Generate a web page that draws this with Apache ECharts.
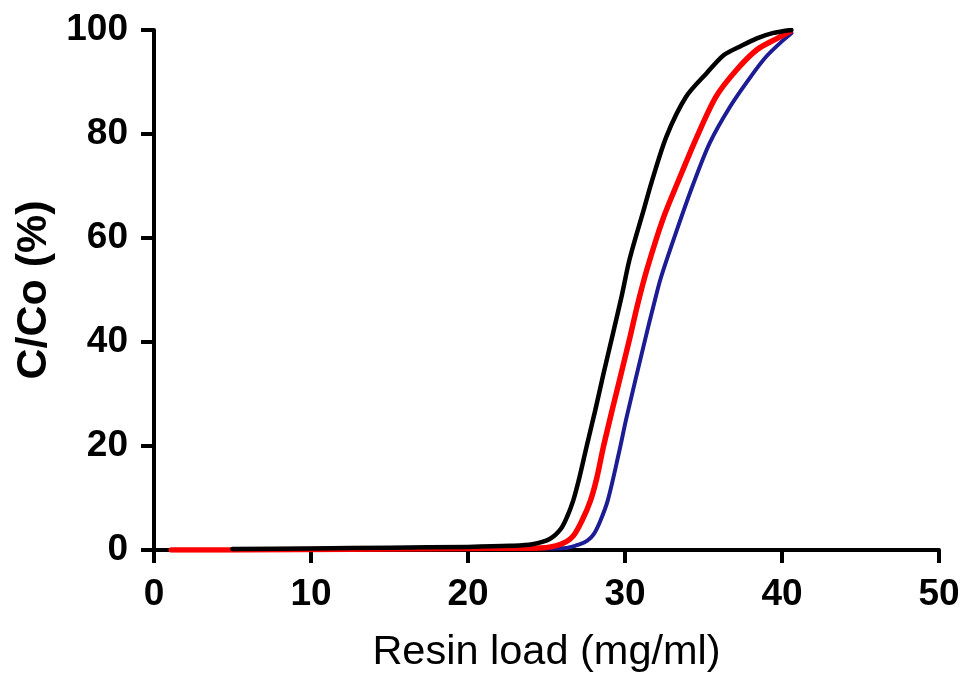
<!DOCTYPE html>
<html>
<head>
<meta charset="utf-8">
<script src="https://cdn.jsdelivr.net/npm/echarts@6/dist/echarts.min.js"></script>
<style>
  html, body { margin: 0; padding: 0; background: #fff; }
  #chart { width: 966px; height: 679px; }
</style>
</head>
<body>
<div id="chart"></div>
<script>
// Breakthrough curves: resin load (mg/ml) vs C/Co (%)
const xTicks = [0, 10, 20, 30, 40, 50];
const yTicks = [0, 20, 40, 60, 80, 100];

const blackCurve = [
  [5.0, 0.2], [10, 0.3], [15, 0.45], [20, 0.6], [22.7, 0.8], [24.1, 1.1],
  [25.2, 2.1], [25.9, 4.0], [26.3, 6.3], [26.7, 9.5], [27.1, 14],
  [27.6, 20.5], [28.1, 26.8], [28.6, 33.5], [29.2, 41.2], [29.8, 49],
  [30.3, 56], [31.2, 65.5], [31.7, 70.8], [32.65, 79.6], [33.9, 87.2],
  [35.2, 91.7], [36.3, 95.2], [37.3, 96.8], [38.4, 98.4], [39.4, 99.4],
  [40.6, 100]
];

const redCurve = [
  [1.1, 0], [5, 0], [10, 0.1], [15, 0.2], [20, 0.3], [24.6, 0.4],
  [25.9, 1.1], [26.7, 2.7], [27.3, 5.9], [27.8, 9.5], [28.2, 13.8],
  [28.6, 19.5], [29.15, 26.5], [30.3, 40.7], [30.8, 47.2], [31.4, 54],
  [32.4, 63.5], [33.4, 71], [34.6, 79.6], [35.8, 87.2], [37.1, 92.3],
  [38.4, 96.2], [39.7, 98.4], [40.5, 99.7]
];

const blueCurve = [
  [5.0, 0], [10, 0.1], [15, 0.2], [20, 0.3], [24.6, 0.3], [26.3, 0.4],
  [27.1, 1.1], [27.6, 1.8], [28.0, 3.0], [28.4, 5.4], [28.9, 9.5],
  [29.6, 18.5], [30.1, 25.5], [31.3, 40.7], [31.8, 46.8], [32.3, 52.5],
  [33.3, 61.5], [34.3, 70], [35.4, 78.3], [36.7, 85.3], [38.0, 91],
  [39.0, 94.9], [40.1, 98.1], [40.6, 99.4]
];

const FONT = '"Liberation Sans", Arial, sans-serif';

const chart = echarts.init(document.getElementById('chart'), null, { renderer: 'canvas' });

const axisCommon = {
  axisLine: { show: true, onZero: false, lineStyle: { color: '#000', width: 4 } },
  axisTick: { show: true, inside: false, length: 13, lineStyle: { color: '#000', width: 4 } },
  splitLine: { show: false },
  axisLabel: { color: '#000', fontFamily: FONT, fontWeight: 'bold', fontSize: 37 }
};

const lineSeries = (name, data, color, width, z) => ({
  name, type: 'line', data, smooth: 0.3, symbol: 'none',
  lineStyle: { color, width, cap: 'round', join: 'round' }, z
});

chart.setOption({
  animation: false,
  backgroundColor: '#fff',
  grid: { left: 154, right: 27, top: 30, bottom: 126, containLabel: false },
  xAxis: Object.assign({}, axisCommon, {
    type: 'value', min: xTicks[0], max: xTicks[xTicks.length - 1], interval: 10,
    name: 'Resin load (mg/ml)', nameLocation: 'middle', nameGap: 82,
    nameTextStyle: { color: '#000', fontFamily: FONT, fontSize: 41.5 },
    axisLabel: Object.assign({}, axisCommon.axisLabel, { margin: 26 })
  }),
  yAxis: Object.assign({}, axisCommon, {
    type: 'value', min: yTicks[0], max: yTicks[yTicks.length - 1], interval: 20,
    name: 'C/Co (%)', nameLocation: 'middle', nameGap: 97, nameRotate: 90,
    nameTextStyle: { color: '#000', fontFamily: FONT, fontWeight: 'bold', fontSize: 43 },
    axisLabel: Object.assign({}, axisCommon.axisLabel, { margin: 26 })
  }),
  series: [
    lineSeries('blue', blueCurve, '#1c1c94', 4, 2),
    lineSeries('red', redCurve, '#ff0000', 5.5, 3),
    lineSeries('black', blackCurve, '#000000', 4.5, 4)
  ]
});
</script>
</body>
</html>
